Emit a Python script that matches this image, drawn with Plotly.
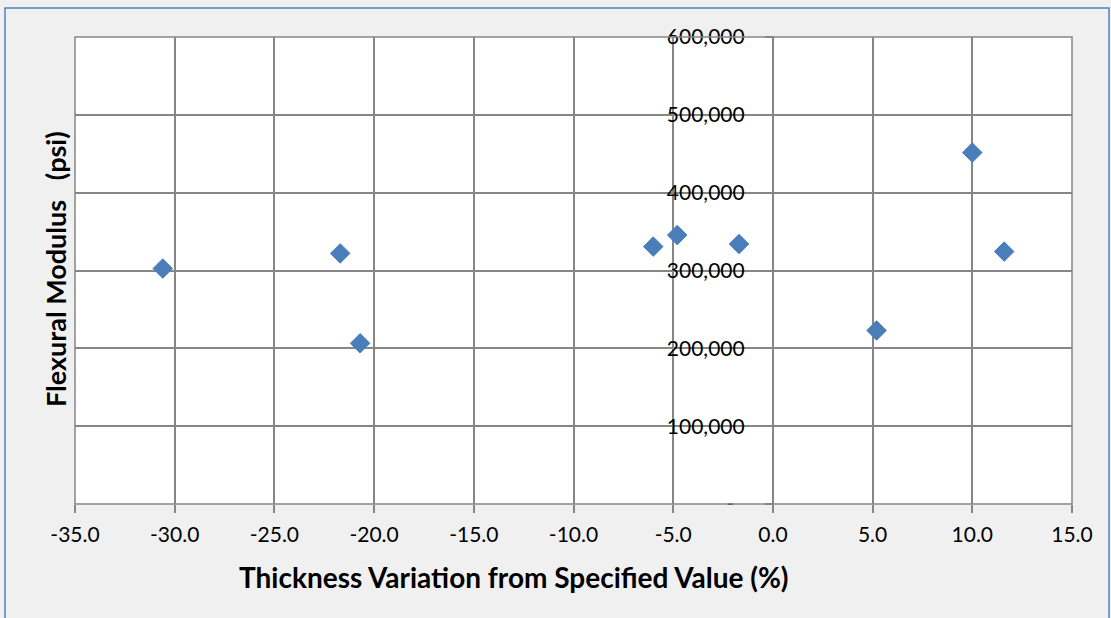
import plotly.graph_objects as go

# Data
thickness_variation = [-30.6, -21.7, -20.7, -6.0, -4.8, -1.7, 5.2, 10.0, 11.6]
flexural_modulus = [302500, 322000, 206500, 330700, 345500, 334000, 223000, 451500, 324300]

x_ticks = [-35, -30, -25, -20, -15, -10, -5, 0, 5, 10, 15]
x_tick_text = ["-35.0", "-30.0", "-25.0", "-20.0", "-15.0", "-10.0", "-5.0", "0.0", "5.0", "10.0", "15.0"]
y_ticks = [0, 100000, 200000, 300000, 400000, 500000, 600000]
y_tick_text = ["-\u00a0\u00a0", "100,000", "200,000", "300,000", "400,000", "500,000", "600,000"]

x_title = "Thickness Variation from Specified Value (%)"
y_title = "Flexural Modulus\u00a0\u00a0\u00a0(psi)"

FONT = "Lato"
GRID = "#868686"
TICK_SIZE = 21
TITLE_SIZE = 28

W, H = 1111, 618
ML, MR, MT, MB = 75, 39, 37, 114
PW, PH = W - ML - MR, H - MT - MB


def px_x(p):
    return (p - ML) / PW


def px_y(p):
    return (H - MB - p) / PH


fig = go.Figure()
fig.add_trace(go.Scatter(
    x=thickness_variation,
    y=flexural_modulus,
    mode="markers",
    marker=dict(symbol="diamond", size=15, color="#4a7ebb",
                line=dict(color="#4a7ebb", width=1)),
    showlegend=False,
))

fig.update_layout(
    width=W, height=H,
    margin=dict(l=ML, r=MR, t=MT, b=MB),
    paper_bgcolor="#f0f0f0",
    plot_bgcolor="#ffffff",
    font=dict(family=FONT, color="#000000", size=TICK_SIZE),
    xaxis=dict(
        range=[-35, 15], tickvals=x_ticks, ticktext=x_tick_text,
        showgrid=True, gridcolor=GRID, gridwidth=1.5,
        zeroline=False, ticks="outside", ticklen=8, tickcolor=GRID, tickwidth=1.5,
        ticklabelstandoff=4,
        showline=False, tickfont=dict(size=TICK_SIZE, family=FONT),
        domain=[0, 1],
    ),
    yaxis=dict(
        range=[0, 600000], tickvals=y_ticks, ticktext=y_tick_text,
        showgrid=True, gridcolor=GRID, gridwidth=1.5,
        zeroline=False, ticks="outside", ticklen=8, tickcolor=GRID, tickwidth=1.5,
        anchor="free", position=0.7, ticklabelstandoff=16,
        showline=False, tickfont=dict(size=TICK_SIZE, family=FONT),
    ),
    shapes=[
        dict(type="rect", xref="paper", yref="paper", x0=0, x1=1, y0=0, y1=1,
             line=dict(color=GRID, width=1.5), fillcolor="rgba(0,0,0,0)", layer="above"),
        dict(type="rect", xref="paper", yref="paper",
             x0=px_x(5), x1=px_x(1109), y0=px_y(640), y1=px_y(8),
             line=dict(color="#4f81bd", width=1.5), fillcolor="rgba(0,0,0,0)", layer="below"),
    ],
    annotations=[
        dict(text="<b>" + x_title + "</b>", xref="paper", yref="paper",
             x=px_x(514), y=px_y(577), showarrow=False,
             font=dict(size=TITLE_SIZE, family=FONT), xanchor="center", yanchor="middle"),
        dict(text="<b>" + y_title + "</b>", xref="paper", yref="paper",
             x=px_x(55), y=px_y(269), showarrow=False, textangle=-90,
             font=dict(size=27, family=FONT), xanchor="center", yanchor="middle"),
    ],
)

fig.write_html("out.html", config={"displayModeBar": False},
               post_script="document.body.style.margin='0';")
